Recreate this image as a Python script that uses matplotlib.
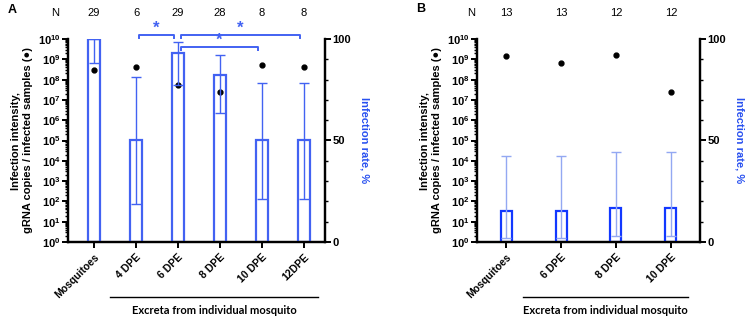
import numpy as np
import matplotlib
matplotlib.use("Agg")
import matplotlib.pyplot as plt
from matplotlib.ticker import LogLocator, FixedLocator, MultipleLocator, FuncFormatter, NullFormatter

plt.rcParams['font.family'] = ['Liberation Sans', 'DejaVu Sans']
plt.rcParams['mathtext.fontset'] = 'custom'
plt.rcParams['mathtext.rm'] = 'Liberation Sans:bold'
plt.rcParams['mathtext.bf'] = 'Liberation Sans:bold'

# ---- panel A data ----
a_labels = ['Mosquitoes', '4 DPE', '6 DPE', '8 DPE', '10 DPE', '12DPE']
a_n = [29, 6, 29, 28, 8, 8]
a_rate = [100, 50, 93.1, 82.1, 50, 50]          # infection rate, %
a_rate_lo = [88.1, 18.7, 77.2, 63.5, 21.2, 21.2]
a_rate_hi = [100, 81.3, 98.5, 92.0, 78.3, 78.3]
a_intensity = [3.0e8, 4.2e8, 5.5e7, 2.5e7, 5.2e8, 4.2e8]
a_sig = [(1, 2, 0), (2, 5, 0), (2, 4, 1)]       # pairs of categories, level

# ---- panel B data ----
b_labels = ['Mosquitoes', '6 DPE', '8 DPE', '10 DPE']
b_n = [13, 13, 12, 12]
b_rate = [15.4, 15.4, 16.7, 16.7]
b_rate_lo = [2.0, 2.0, 3.0, 3.0]
b_rate_hi = [42.4, 42.4, 44.3, 44.3]
b_intensity = [1.45e9, 6.6e8, 1.6e9, 2.5e7]

BLUE_A = '#4262f2'
BLUE_B = '#1238ff'
ERR_B = '#93a8f2'


def log_fmt(v, pos):
    return r'$\mathbf{10^{%d}}$' % int(round(np.log10(v)))


def draw_panel(fig, rect, labels, n, rate, lo, hi, inten, bar_c, err_c, width, xpad, group):
    ax = fig.add_axes(rect)
    ax2 = ax.twinx()
    x = np.arange(len(labels))
    rate = np.array(rate)
    ax2.bar(x, rate, width=width, facecolor='none', edgecolor=bar_c, linewidth=1.6, zorder=2)
    ax2.errorbar(x, rate, yerr=[rate - np.array(lo), np.array(hi) - rate], fmt='none',
                 ecolor=err_c, elinewidth=1.0, capsize=3.8, capthick=1.0, zorder=3)
    ax.plot(x, inten, 'o', color='black', markersize=3.5, zorder=5)

    ax.set_yscale('log')
    ax.set_ylim(1, 1e10)
    ax.set_xlim(-xpad[0], len(labels) - 1 + xpad[1])
    ax2.set_ylim(0, 100)
    ax.yaxis.set_major_locator(LogLocator(base=10, numticks=20))
    ax.yaxis.set_minor_locator(LogLocator(base=10, subs=np.arange(2, 10), numticks=20))
    ax.yaxis.set_major_formatter(FuncFormatter(log_fmt))
    ax.yaxis.set_minor_formatter(NullFormatter())
    ax2.yaxis.set_major_locator(FixedLocator([0, 50, 100]))
    ax2.yaxis.set_minor_locator(MultipleLocator(10))

    for a in (ax, ax2):
        a.spines['top'].set_visible(False)
        for s in ('left', 'right', 'bottom'):
            a.spines[s].set_linewidth(1.6)
        a.tick_params(which='major', length=4.5, width=1.4, labelsize=8)
        a.tick_params(which='minor', length=2.5, width=1.0)
    ax.tick_params(axis='y', pad=1)
    ax2.tick_params(axis='y', pad=1)
    for t in ax2.get_yticklabels():
        t.set_fontweight('bold')
    ax.set_xticks(x)
    ax.set_xticklabels(labels, rotation=45, ha='right', va='top', fontsize=7.5,
                       fontweight='bold', rotation_mode='anchor')
    ax.tick_params(axis='x', length=4, width=1.4, pad=3)

    ax.set_ylabel('Infection intensity,\ngRNA copies / infected samples (\u25cf)',
                  fontsize=8, fontweight='bold', labelpad=3, linespacing=1.3)
    ax2.set_ylabel('Infection rate, %', fontsize=8, fontweight='bold', color='#2850f0',
                   rotation=270, labelpad=13)

    tr = ax.get_xaxis_transform()
    ax.text(-xpad[0] - 0.2 * (xpad[0] > 0.6) - 0.1, 1.128, 'N', transform=tr, ha='center',
            va='center', fontsize=8, clip_on=False)
    for xi, ni in zip(x, n):
        ax.text(xi, 1.128, str(ni), transform=tr, ha='center', va='center', fontsize=8, clip_on=False)

    ax.plot(group[:2], [-0.27, -0.27], transform=tr, color='black', lw=1.0, clip_on=False)
    ax.text(np.mean(group[:2]), -0.335, 'Excreta from individual mosquito', transform=tr,
            ha='center', va='center', fontsize=8, fontweight='bold', family='Lato', clip_on=False)
    return ax, ax2


fig = plt.figure(figsize=(7.47, 3.18), dpi=100)

axA, axA2 = draw_panel(fig, [68 / 747, 76 / 318, 257 / 747, 203 / 318], a_labels, a_n, a_rate,
                       a_rate_lo, a_rate_hi, a_intensity, BLUE_A, BLUE_A, 0.27, (0.62, 0.5),
                       (0.38, 5.33))
axB, axB2 = draw_panel(fig, [477 / 747, 76 / 318, 223 / 747, 203 / 318], b_labels, b_n, b_rate,
                       b_rate_lo, b_rate_hi, b_intensity, BLUE_B, ERR_B, 0.2, (0.53, 0.53),
                       (0.31, 3.31))

# significance brackets in panel A
tr = axA.get_xaxis_transform()
for i0, i1, lev in a_sig:
    yb = 1.021 - 0.059 * lev
    x0, x1 = i0 + 0.08, i1 - 0.1
    axA.plot([x0, x0, x1, x1], [yb - 0.017, yb, yb, yb - 0.017], transform=tr, color=BLUE_A,
             lw=1.4, clip_on=False)
    axA.text((x0 + x1) / 2, yb + 0.03, '*', transform=tr, ha='center', va='center',
             fontsize=12, fontweight='bold', color=BLUE_A, clip_on=False)

fig.text(8 / 747, 1 - 10 / 318, 'A', fontsize=9, fontweight='bold', va='center')
fig.text(416 / 747, 1 - 9 / 318, 'B', fontsize=9, fontweight='bold', va='center')

fig.savefig('out.png', dpi=100)
